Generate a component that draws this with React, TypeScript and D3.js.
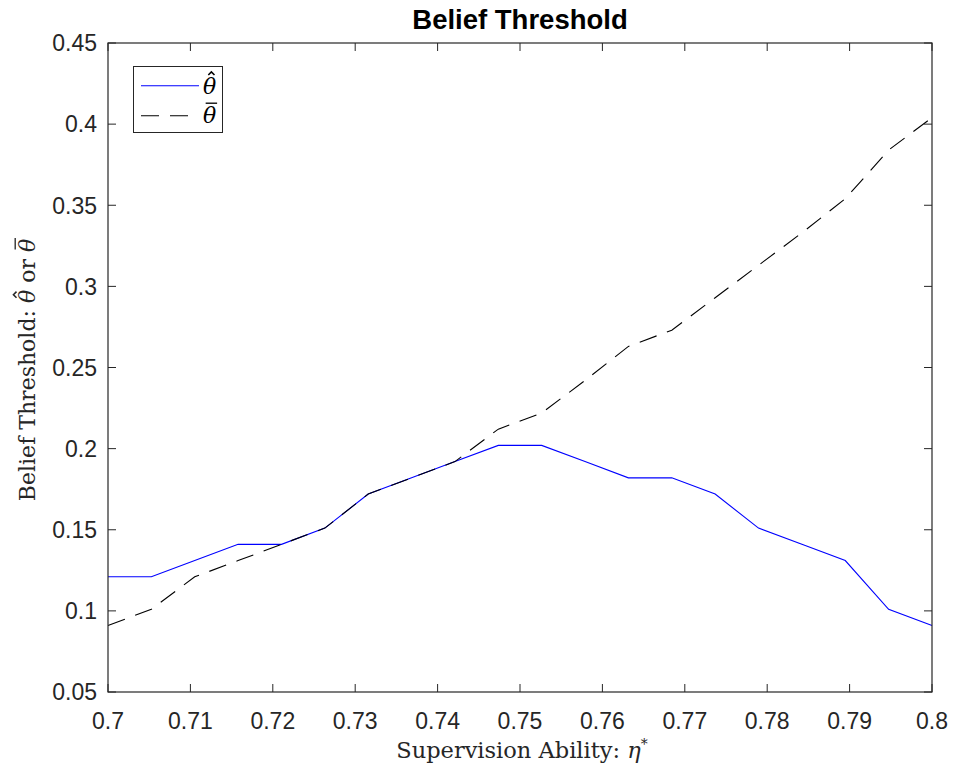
import React, { useLayoutEffect, useRef, useState } from "react";
import * as d3 from "d3";

const etaValues: number[] = d3.range(20).map((i) => 0.7 + (i * 0.1) / 19);
const thetaHat: number[] = [0.121, 0.121, 0.131, 0.141, 0.141, 0.151, 0.172, 0.182, 0.192, 0.202, 0.202, 0.192, 0.182, 0.182, 0.172, 0.151, 0.141, 0.131, 0.101, 0.091];
const thetaBar: number[] = [0.091, 0.101, 0.121, 0.131, 0.141, 0.151, 0.172, 0.182, 0.192, 0.212, 0.222, 0.242, 0.263, 0.273, 0.293, 0.313, 0.333, 0.354, 0.384, 0.404];
const xTicks: number[] = [0.7, 0.71, 0.72, 0.73, 0.74, 0.75, 0.76, 0.77, 0.78, 0.79, 0.8];
const yTicks: number[] = [0.05, 0.1, 0.15, 0.2, 0.25, 0.3, 0.35, 0.4, 0.45];

const W = 954, H = 772;
const L = 108, R = 932, T = 43, B = 692;
const sans = "'Liberation Sans', Arial, Helvetica, sans-serif";
const serif = "'DejaVu Serif', 'Liberation Serif', serif";

type Part = { text: string; italic?: boolean; accent?: "hat" | "bar"; size?: number; dy?: number };
type Acc = { kind: "hat" | "bar"; x: number; w: number };

function AccentText({ transform, fontSize, parts, anchor, fill }: { transform: string; fontSize: number; parts: Part[]; anchor: string; fill: string }) {
  const ref = useRef<SVGTextElement>(null);
  const [accs, setAccs] = useState<Acc[]>([]);
  useLayoutEffect(() => {
    const el = ref.current;
    if (!el) return;
    const out: Acc[] = [];
    let idx = 0;
    parts.forEach((p) => {
      if (p.accent) {
        try {
          const e = el.getExtentOfChar(idx);
          out.push({ kind: p.accent, x: e.x, w: e.width });
        } catch (err) {}
      }
      idx += p.text.length;
    });
    setAccs(out);
  }, []);
  const em = fontSize;
  return (
    <g transform={transform}>
      <text ref={ref} x={0} y={0} textAnchor={anchor} fontFamily={serif} fontSize={fontSize} fill={fill}>
        {parts.map((p, i) => (
          <tspan key={i} fontStyle={p.italic ? "italic" : "normal"} fontSize={p.size} dy={p.dy}>{p.text}</tspan>
        ))}
      </text>
      {accs.map((a, i) => {
        const cx = a.x + a.w / 2 + 0.08 * em;
        if (a.kind === "hat") {
          const hw = 0.14 * em;
          const top = -0.98 * em;
          const bot = -0.84 * em;
          return <path key={i} d={`M${cx - hw},${bot} L${cx},${top} L${cx + hw},${bot}`} fill="none" stroke={fill} strokeWidth={0.07 * em} />;
        }
        const hw = 0.26 * em;
        const yy = -0.9 * em;
        return <line key={i} x1={cx - hw} x2={cx + hw} y1={yy} y2={yy} stroke={fill} strokeWidth={0.06 * em} />;
      })}
    </g>
  );
}

export default function App() {
  const x = d3.scaleLinear().domain([0.7, 0.8]).range([L, R]);
  const y = d3.scaleLinear().domain([0.05, 0.45]).range([B, T]);
  const line = d3.line<number>().x((_, i) => x(etaValues[i])).y((d) => y(d));
  const axisColor = "#262626";
  const tickLen = 8;
  return (
    <svg width={W} height={H} style={{ position: "absolute", left: 0, top: 0, background: "#fff" }}>
      <rect x={0} y={0} width={W} height={H} fill="#fff" />
      {xTicks.map((t) => (
        <g key={"x" + t}>
          <line x1={x(t)} x2={x(t)} y1={B} y2={B - tickLen} stroke={axisColor} strokeWidth={1} />
          <line x1={x(t)} x2={x(t)} y1={T} y2={T + tickLen} stroke={axisColor} strokeWidth={1} />
          <text x={x(t)} y={729} textAnchor="middle" fontFamily={sans} fontSize={23} fill="#262626">{String(t)}</text>
        </g>
      ))}
      {yTicks.map((t) => (
        <g key={"y" + t}>
          <line x1={L} x2={L + tickLen} y1={y(t)} y2={y(t)} stroke={axisColor} strokeWidth={1} />
          <line x1={R} x2={R - tickLen} y1={y(t)} y2={y(t)} stroke={axisColor} strokeWidth={1} />
          <text x={97} y={y(t) + 8.3} textAnchor="end" fontFamily={sans} fontSize={23} fill="#262626">{String(t)}</text>
        </g>
      ))}
      <path d={line(thetaHat) || ""} fill="none" stroke="#0000ff" strokeWidth={1.1} />
      <path d={line(thetaBar) || ""} fill="none" stroke="#000" strokeWidth={1.1} strokeDasharray="18 11" />
      <rect x={L} y={T} width={R - L} height={B - T} fill="none" stroke={axisColor} strokeWidth={1.2} />
      <text x={(L + R) / 2} y={29} textAnchor="middle" fontFamily={sans} fontWeight="bold" fontSize={27.5} fill="#000">Belief Threshold</text>
      <AccentText
        transform="translate(522, 758)"
        fontSize={22.5}
        anchor="middle"
        fill="#262626"
        parts={[{ text: "Supervision Ability: " }, { text: "η", italic: true }, { text: "*", size: 14, dy: -9 }]}
      />
      <AccentText
        transform={`translate(35, 370) rotate(-90)`}
        fontSize={22}
        anchor="middle"
        fill="#262626"
        parts={[
          { text: "Belief Threshold: " },
          { text: "θ", italic: true, accent: "hat" },
          { text: " or " },
          { text: "θ", italic: true, accent: "bar" },
        ]}
      />
      <rect x={133.5} y={66.5} width={89} height={66} fill="#fff" stroke={axisColor} strokeWidth={1} />
      <line x1={141} x2={199} y1={85.7} y2={85.7} stroke="#0000ff" strokeWidth={1.1} />
      <line x1={141} x2={199} y1={115.7} y2={115.7} stroke="#000" strokeWidth={1.1} strokeDasharray="18 11" />
      <AccentText transform="translate(203, 93.5)" fontSize={22} anchor="start" fill="#000" parts={[{ text: "θ", italic: true, accent: "hat" }]} />
      <AccentText transform="translate(203, 123)" fontSize={22} anchor="start" fill="#000" parts={[{ text: "θ", italic: true, accent: "bar" }]} />
    </svg>
  );
}
